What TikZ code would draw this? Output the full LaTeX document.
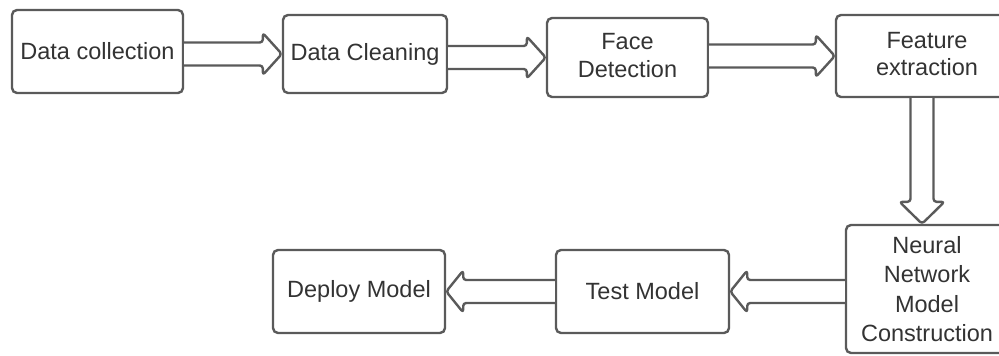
\documentclass[tikz,border=0pt]{standalone}
\usepackage{fontspec}
\setmainfont{Liberation Sans}
\usetikzlibrary{calc}
\definecolor{edgegray}{HTML}{5A5A5A}
\definecolor{inkgray}{HTML}{333333}
\newcommand\myArrowR[2]{%
  \draw[blockarrow] ($(#1.east|-#2.west)+(0,-11.5)$) -- ($(#2.west)+(-19,-11.5)$) -- ($(#2.west)+(-19,-21)$) -- (#2.west) -- ($(#2.west)+(-19,21)$) -- ($(#2.west)+(-19,11.5)$) -- ($(#1.east|-#2.west)+(0,11.5)$);}
\newcommand\myArrowL[2]{%
  \draw[blockarrow] ($(#1.west|-#2.east)+(0,-11.5)$) -- ($(#2.east)+(17,-11.5)$) -- ($(#2.east)+(17,-21)$) -- (#2.east) -- ($(#2.east)+(17,21)$) -- ($(#2.east)+(17,11.5)$) -- ($(#1.west|-#2.east)+(0,11.5)$);}
\begin{document}
\begin{tikzpicture}[x=1pt,y=-1pt,
  box/.style={draw=edgegray, line width=2.4pt, rounded corners=5pt, fill=white, text=inkgray,
    align=center, inner sep=0pt, font=\fontsize{23.5}{29.5}\selectfont},
  blockarrow/.style={draw=edgegray, line width=2.4pt, fill=white, rounded corners=3pt, line join=round}]
\useasboundingbox (0,0) rectangle (999,356);
\node[box, minimum width=171pt, minimum height=83pt] (dc) at (97.5,51.5) {Data collection};
\node[box, minimum width=164pt, minimum height=78pt] (cl) at (365,54) {Data Cleaning};
\node[box, minimum width=161pt, minimum height=79pt] (fd) at (627.5,57.5) {\raisebox{4pt}{\begin{tabular}{@{}c@{}}Face\\[-2pt]Detection\end{tabular}}};
\node[box, minimum width=182pt, minimum height=82pt] (fe) at (927,56) {\raisebox{2pt}{\begin{tabular}{@{}c@{}}Feature\\[-2pt]extraction\end{tabular}}};
\node[box, minimum width=162pt, minimum height=128pt] (nn) at (927,289) {Neural\\Network\\Model\\Construction};
\node[box, minimum width=173pt, minimum height=83pt] (tm) at (642.5,291.5) {Test Model};
\node[box, minimum width=172pt, minimum height=83pt] (dm) at (359,291.5) {Deploy Model};
\myArrowR{dc}{cl}
\myArrowR{cl}{fd}
\myArrowR{fd}{fe}
\coordinate (vt) at ($(nn.north)+(-5,0)$);
\coordinate (vs) at (vt |- fe.south);
\draw[blockarrow] ($(vs)+(-11.5,0)$) -- ($(vt)+(-11.5,-22)$) -- ($(vt)+(-22.5,-22)$) -- (vt) -- ($(vt)+(22.5,-22)$) -- ($(vt)+(11.5,-22)$) -- ($(vs)+(11.5,0)$);
\myArrowL{nn}{tm}
\myArrowL{tm}{dm}
\end{tikzpicture}
\end{document}
